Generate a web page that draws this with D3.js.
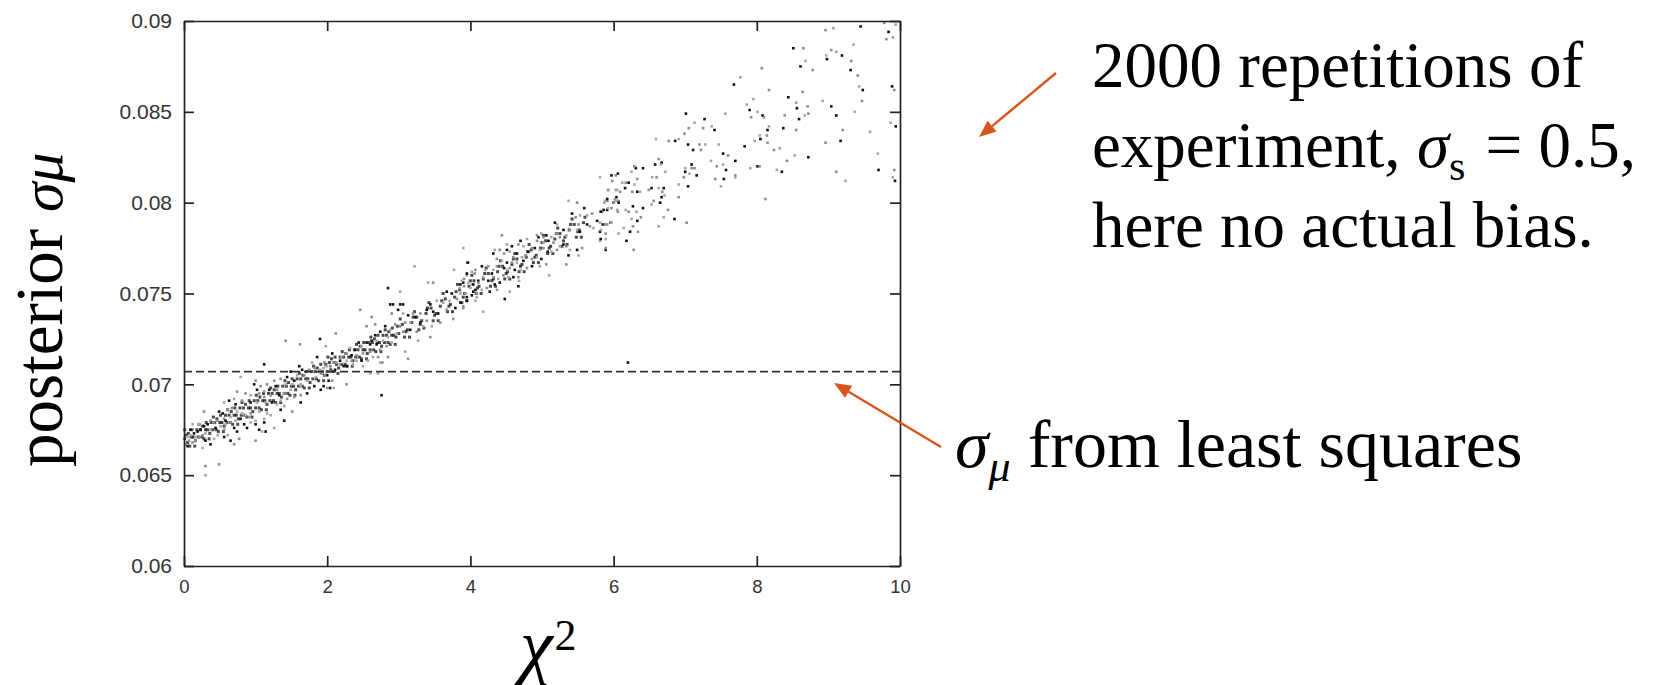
<!DOCTYPE html>
<html>
<head>
<meta charset="utf-8">
<script src="https://cdn.jsdelivr.net/npm/d3@7"></script>
<style>
  body { margin: 0; background: #fff; }
  svg { display: block; }
</style>
</head>
<body>
<svg width="1654" height="685"></svg>
<script>
const svg = d3.select("svg");

// *** DATA ***
const xTicks = [0, 2, 4, 6, 8, 10];
const yTicks = [0.06, 0.065, 0.07, 0.075, 0.08, 0.085, 0.09];
const leastSquaresSigma = 0.0707; // dashed line

// [chi2, posterior sigma_mu] pairs, chi2 < 2.1
const bandLow = [
  [0.01,0.0670],[0.02,0.0667],[0.05,0.0671],[0.05,0.0666],[0.07,0.0669],[0.09,0.0672],[0.09,0.0675],[0.12,0.0668],
  [0.12,0.0678],[0.14,0.0673],[0.16,0.0669],[0.16,0.0671],[0.19,0.0674],[0.21,0.0671],[0.21,0.0678],[0.23,0.0675],
  [0.26,0.0672],[0.26,0.0665],[0.28,0.0677],[0.28,0.0685],[0.30,0.0673],[0.30,0.0669],[0.30,0.0655],[0.30,0.0650],
  [0.33,0.0678],[0.37,0.0680],[0.37,0.0675],[0.37,0.0667],[0.42,0.0679],[0.42,0.0670],[0.44,0.0676],[0.47,0.0680],
  [0.47,0.0672],[0.49,0.0685],[0.49,0.0656],[0.51,0.0677],[0.54,0.0684],[0.56,0.0681],[0.56,0.0690],[0.56,0.0671],
  [0.56,0.0675],[0.58,0.0678],[0.58,0.0680],[0.61,0.0686],[0.61,0.0672],[0.63,0.0691],[0.65,0.0679],[0.65,0.0682],
  [0.65,0.0669],[0.67,0.0687],[0.70,0.0692],[0.70,0.0676],[0.70,0.0667],[0.72,0.0680],[0.72,0.0689],[0.74,0.0696],
  [0.74,0.0685],[0.74,0.0674],[0.77,0.0670],[0.79,0.0704],[0.79,0.0681],[0.81,0.0691],[0.81,0.0684],[0.84,0.0678],
  [0.86,0.0695],[0.86,0.0683],[0.88,0.0676],[0.91,0.0682],[0.93,0.0694],[0.93,0.0690],[0.93,0.0684],[0.93,0.0679],
  [0.98,0.0700],[1.00,0.0702],[1.00,0.0680],[1.00,0.0678],[1.00,0.0669],[1.02,0.0690],[1.02,0.0697],[1.05,0.0695],
  [1.05,0.0685],[1.05,0.0675],[1.07,0.0699],[1.09,0.0674],[1.12,0.0711],[1.12,0.0693],[1.12,0.0681],[1.12,0.0679],
  [1.12,0.0696],[1.14,0.0690],[1.14,0.0674],[1.16,0.0700],[1.16,0.0684],[1.19,0.0697],[1.21,0.0694],[1.21,0.0683],
  [1.23,0.0690],[1.26,0.0702],[1.26,0.0676],[1.28,0.0699],[1.30,0.0697],[1.30,0.0689],[1.33,0.0694],[1.35,0.0703],
  [1.35,0.0691],[1.35,0.0686],[1.40,0.0695],[1.40,0.0688],[1.40,0.0680],[1.42,0.0724],[1.42,0.0700],[1.44,0.0704],
  [1.44,0.0692],[1.49,0.0697],[1.49,0.0707],[1.51,0.0685],[1.51,0.0700],[1.54,0.0702],[1.54,0.0693],[1.58,0.0705],
  [1.61,0.0710],[1.62,0.0722],[1.63,0.0700],[1.63,0.0690],[1.63,0.0694],[1.63,0.0699],[1.65,0.0708],[1.68,0.0705],
  [1.72,0.0702],[1.72,0.0695],[1.75,0.0708],[1.79,0.0712],[1.82,0.0699],[1.82,0.0709],[1.84,0.0704],[1.86,0.0715],
  [1.89,0.0707],[1.91,0.0706],[1.91,0.0697],[1.96,0.0712],[1.98,0.0721],[2.00,0.0705],[2.00,0.0698],[2.05,0.0710],
  [2.07,0.0717],[2.07,0.0702]
];

// chi2 between 1.9 and 4.1
const bandMid = [
  [1.90,0.0708],[1.90,0.0725],[1.92,0.0706],[1.95,0.0709],[1.95,0.0699],[1.97,0.0705],[1.99,0.0710],[2.02,0.0702],
  [2.04,0.0710],[2.04,0.0707],[2.04,0.0698],[2.09,0.0712],[2.09,0.0698],[2.11,0.0708],[2.12,0.0728],[2.13,0.0712],
  [2.18,0.0713],[2.18,0.0711],[2.20,0.0715],[2.23,0.0710],[2.27,0.0717],[2.27,0.0713],[2.27,0.0710],[2.27,0.0700],
  [2.32,0.0720],[2.34,0.0716],[2.34,0.0713],[2.36,0.0711],[2.39,0.0719],[2.41,0.0716],[2.41,0.0713],[2.44,0.0723],
  [2.46,0.0741],[2.48,0.0721],[2.48,0.0713],[2.50,0.0717],[2.50,0.0710],[2.55,0.0723],[2.55,0.0732],[2.57,0.0713],
  [2.60,0.0722],[2.60,0.0718],[2.60,0.0706],[2.62,0.0724],[2.62,0.0737],[2.64,0.0715],[2.67,0.0727],[2.67,0.0733],
  [2.69,0.0724],[2.69,0.0722],[2.71,0.0715],[2.71,0.0706],[2.74,0.0729],[2.74,0.0719],[2.74,0.0712],[2.76,0.0694],
  [2.77,0.0712],[2.78,0.0724],[2.81,0.0732],[2.83,0.0721],[2.85,0.0726],[2.85,0.0753],[2.85,0.0715],[2.88,0.0730],
  [2.88,0.0744],[2.90,0.0739],[2.90,0.0723],[2.92,0.0744],[2.95,0.0733],[2.97,0.0728],[2.99,0.0741],[3.02,0.0732],
  [3.02,0.0751],[3.02,0.0744],[3.06,0.0729],[3.06,0.0739],[3.06,0.0744],[3.09,0.0734],[3.09,0.0718],[3.13,0.0738],
  [3.13,0.0714],[3.16,0.0734],[3.16,0.0730],[3.20,0.0739],[3.22,0.0765],[3.23,0.0737],[3.25,0.0729],[3.27,0.0724],
  [3.30,0.0734],[3.30,0.0739],[3.34,0.0732],[3.39,0.0741],[3.39,0.0735],[3.41,0.0756],[3.44,0.0744],[3.44,0.0726],
  [3.46,0.0732],[3.48,0.0740],[3.48,0.0756],[3.53,0.0746],[3.55,0.0739],[3.58,0.0734],[3.62,0.0745],[3.67,0.0751],
  [3.67,0.0741],[3.71,0.0746],[3.74,0.0750],[3.76,0.0736],[3.77,0.0763],[3.79,0.0742],[3.81,0.0747],[3.85,0.0753],
  [3.90,0.0756],[3.90,0.0742],[3.95,0.0760],[3.95,0.0748],[3.97,0.0767],[4.02,0.0755],[4.04,0.0751],[4.06,0.0761],
  [4.09,0.0748],[4.11,0.0757]
];

// chi2 between 3.8 and 6.1
const bandHigh = [
  [6.03,0.0815],[5.81,0.0814],[5.97,0.0815],[5.92,0.0807],[6.05,0.0807],[6.04,0.0803],[5.91,0.0801],[5.87,0.0800],
  [6.00,0.0800],[6.07,0.0801],[5.84,0.0795],[5.91,0.0796],[5.97,0.0797],[6.05,0.0796],[5.96,0.0789],[5.91,0.0788],
  [5.81,0.0789],[5.77,0.0790],[5.70,0.0794],[5.63,0.0793],[5.59,0.0797],[5.49,0.0800],[5.37,0.0801],[5.42,0.0794],
  [5.47,0.0792],[5.53,0.0793],[5.63,0.0788],[5.67,0.0787],[5.72,0.0786],[5.81,0.0784],[5.89,0.0783],[5.81,0.0779],
  [5.89,0.0774],[5.51,0.0788],[5.49,0.0785],[5.53,0.0784],[5.39,0.0785],[5.34,0.0782],[5.30,0.0785],[5.25,0.0781],
  [5.21,0.0788],[5.18,0.0789],[5.20,0.0783],[5.13,0.0781],[5.06,0.0782],[5.02,0.0781],[4.99,0.0783],[4.95,0.0781],
  [4.93,0.0779],[5.02,0.0778],[5.09,0.0779],[5.16,0.0778],[5.25,0.0776],[5.30,0.0777],[5.34,0.0776],[5.39,0.0774],
  [5.49,0.0774],[5.56,0.0775],[5.51,0.0771],[5.37,0.0771],[5.21,0.0774],[5.13,0.0773],[5.08,0.0773],[5.02,0.0775],
  [4.97,0.0774],[4.90,0.0775],[4.86,0.0775],[4.79,0.0780],[4.70,0.0779],[4.67,0.0777],[4.74,0.0776],[4.81,0.0773],
  [4.77,0.0771],[4.72,0.0770],[4.65,0.0772],[4.60,0.0770],[4.55,0.0773],[4.51,0.0774],[4.47,0.0772],[4.44,0.0768],
  [4.51,0.0767],[4.58,0.0767],[4.65,0.0767],[4.74,0.0768],[4.86,0.0769],[4.93,0.0770],[4.99,0.0769],[5.06,0.0766],
  [4.97,0.0765],[4.86,0.0765],[4.79,0.0764],[4.70,0.0763],[4.62,0.0763],[4.55,0.0764],[4.51,0.0763],[4.47,0.0764],
  [4.37,0.0765],[4.32,0.0763],[4.30,0.0761],[4.25,0.0765],[4.21,0.0763],[4.16,0.0765],[4.07,0.0763],[4.02,0.0762],
  [3.95,0.0761],[3.91,0.0758],[3.88,0.0757],[3.86,0.0755],[3.91,0.0754],[3.97,0.0756],[4.04,0.0755],[4.11,0.0756],
  [4.00,0.0753],[4.07,0.0752],[3.93,0.0750],[3.86,0.0750],[4.02,0.0749],[4.09,0.0750],[4.18,0.0759],[4.25,0.0757],
  [4.32,0.0759],[4.39,0.0758],[4.41,0.0756],[4.46,0.0760],[4.53,0.0759],[4.60,0.0759],[4.67,0.0759],[4.68,0.0757],
  [4.34,0.0755],[4.23,0.0753],[4.16,0.0752],[4.27,0.0751],[4.37,0.0752],[4.55,0.0751],[4.67,0.0754],[4.41,0.0774],
  [4.34,0.0774],[4.32,0.0772],[4.37,0.0769],[3.90,0.0775],[3.96,0.0767],[4.44,0.0782],[4.51,0.0777],[4.58,0.0776],
  [4.93,0.0782],[4.07,0.0746],[3.95,0.0746],[3.90,0.0743],[4.18,0.0740],[4.48,0.0747],[5.34,0.0766],[5.10,0.0760],
  [3.86,0.0745]
];

// dense core of the band (overlapping dots, chi2 0 to 5.6)
const bandCore = [
  [0.03,0.0672],[0.05,0.0668],[0.01,0.0675],[0.08,0.0666],[0.10,0.0671],[0.06,0.0673],[0.13,0.0671],[0.15,0.0666],
  [0.11,0.0675],[0.18,0.0675],[0.20,0.0671],[0.16,0.0669],[0.23,0.0675],[0.25,0.0671],[0.21,0.0678],[0.28,0.0670],
  [0.30,0.0675],[0.26,0.0677],[0.33,0.0675],[0.35,0.0670],[0.31,0.0679],[0.38,0.0679],[0.40,0.0675],[0.36,0.0673],
  [0.43,0.0679],[0.45,0.0675],[0.41,0.0682],[0.48,0.0674],[0.50,0.0679],[0.46,0.0681],[0.53,0.0679],[0.55,0.0674],
  [0.51,0.0683],[0.58,0.0683],[0.60,0.0679],[0.56,0.0677],[0.63,0.0683],[0.65,0.0679],[0.61,0.0686],[0.68,0.0678],
  [0.70,0.0683],[0.66,0.0685],[0.73,0.0683],[0.75,0.0678],[0.71,0.0687],[0.78,0.0687],[0.80,0.0683],[0.76,0.0681],
  [0.83,0.0687],[0.85,0.0683],[0.81,0.0690],[0.88,0.0682],[0.90,0.0687],[0.86,0.0689],[0.93,0.0687],[0.95,0.0682],
  [0.91,0.0691],[0.98,0.0691],[1.00,0.0687],[0.96,0.0685],[1.03,0.0691],[1.05,0.0687],[1.01,0.0694],[1.08,0.0686],
  [1.10,0.0691],[1.06,0.0693],[1.13,0.0691],[1.15,0.0686],[1.11,0.0695],[1.18,0.0695],[1.20,0.0691],[1.16,0.0689],
  [1.23,0.0695],[1.25,0.0691],[1.21,0.0698],[1.28,0.0690],[1.30,0.0695],[1.26,0.0697],[1.33,0.0695],[1.35,0.0690],
  [1.31,0.0699],[1.38,0.0699],[1.40,0.0695],[1.36,0.0693],[1.43,0.0699],[1.45,0.0695],[1.41,0.0702],[1.48,0.0694],
  [1.50,0.0699],[1.46,0.0701],[1.53,0.0699],[1.55,0.0694],[1.51,0.0703],[1.58,0.0703],[1.60,0.0699],[1.56,0.0697],
  [1.63,0.0703],[1.65,0.0699],[1.61,0.0706],[1.68,0.0698],[1.70,0.0703],[1.66,0.0705],[1.73,0.0703],[1.75,0.0698],
  [1.71,0.0707],[1.78,0.0707],[1.80,0.0703],[1.76,0.0701],[1.83,0.0707],[1.85,0.0703],[1.81,0.0710],[1.88,0.0702],
  [1.90,0.0707],[1.86,0.0709],[1.93,0.0707],[1.95,0.0702],[1.91,0.0711],[1.98,0.0711],[2.00,0.0707],[1.96,0.0705],
  [2.03,0.0712],[2.05,0.0708],[2.01,0.0715],[2.08,0.0707],[2.10,0.0712],[2.06,0.0714],[2.13,0.0711],[2.15,0.0706],
  [2.11,0.0715],[2.18,0.0715],[2.20,0.0711],[2.16,0.0709],[2.23,0.0715],[2.25,0.0711],[2.21,0.0718],[2.28,0.0710],
  [2.30,0.0715],[2.26,0.0717],[2.33,0.0715],[2.35,0.0710],[2.31,0.0719],[2.38,0.0719],[2.40,0.0715],[2.36,0.0713],
  [2.43,0.0719],[2.45,0.0715],[2.41,0.0722],[2.48,0.0714],[2.50,0.0719],[2.46,0.0721],[2.53,0.0719],[2.55,0.0714],
  [2.51,0.0723],[2.58,0.0723],[2.60,0.0719],[2.56,0.0717],[2.63,0.0723],[2.65,0.0719],[2.61,0.0726],[2.68,0.0718],
  [2.70,0.0723],[2.66,0.0725],[2.73,0.0723],[2.75,0.0718],[2.71,0.0727],[2.78,0.0727],[2.80,0.0723],[2.76,0.0721],
  [2.83,0.0727],[2.85,0.0723],[2.81,0.0730],[2.88,0.0722],[2.90,0.0727],[2.86,0.0729],[2.93,0.0727],[2.95,0.0722],
  [2.91,0.0731],[2.98,0.0732],[3.00,0.0728],[2.96,0.0726],
  [3.05,0.0733],[3.08,0.0726],[3.02,0.0736],[3.10,0.0729],[3.15,0.0726],[3.18,0.0734],[3.12,0.0730],[3.20,0.0737],
  [3.25,0.0737],[3.28,0.0730],[3.22,0.0740],[3.30,0.0733],[3.35,0.0731],[3.38,0.0739],[3.32,0.0735],[3.40,0.0742],
  [3.45,0.0742],[3.48,0.0735],[3.42,0.0745],[3.50,0.0738],[3.55,0.0735],[3.58,0.0743],[3.52,0.0739],[3.60,0.0746],
  [3.65,0.0747],[3.68,0.0740],[3.62,0.0750],[3.70,0.0743],[3.75,0.0740],[3.78,0.0748],[3.72,0.0744],[3.80,0.0751],
  [3.85,0.0752],[3.88,0.0745],[3.82,0.0755],[3.90,0.0748],[3.95,0.0746],[3.98,0.0754],[3.92,0.0750],[4.00,0.0757],
  [4.05,0.0757],[4.08,0.0750],[4.02,0.0760],[4.10,0.0753],[4.15,0.0750],[4.18,0.0758],[4.12,0.0754],[4.20,0.0761],
  [4.25,0.0761],[4.28,0.0754],[4.22,0.0764],[4.30,0.0757],[4.35,0.0754],[4.38,0.0762],[4.32,0.0758],[4.40,0.0765],
  [4.45,0.0765],[4.48,0.0758],[4.42,0.0768],[4.50,0.0761],[4.55,0.0758],[4.58,0.0766],[4.52,0.0762],[4.60,0.0769],
  [4.65,0.0769],[4.68,0.0762],[4.62,0.0772],[4.70,0.0765],[4.75,0.0762],[4.78,0.0770],[4.72,0.0766],[4.80,0.0773],
  [4.85,0.0774],[4.88,0.0767],[4.82,0.0777],[4.90,0.0770],[4.95,0.0767],[4.98,0.0775],[4.92,0.0771],[5.00,0.0778],
  [5.05,0.0779],[5.08,0.0772],[5.02,0.0782],[5.10,0.0775],[5.15,0.0772],[5.18,0.0780],[5.12,0.0776],[5.20,0.0783],
  [5.25,0.0783],[5.28,0.0776],[5.22,0.0786],[5.30,0.0779],[5.35,0.0777],[5.38,0.0785],[5.32,0.0781],[5.40,0.0788],
  [5.45,0.0788],[5.48,0.0781],[5.42,0.0791],[5.50,0.0784],[5.55,0.0781],[5.58,0.0789],[5.52,0.0785],[5.60,0.0792]
];

// chi2 above 5.8, sparse tail
const tail = [
  [8.96,0.0895],[9.07,0.0896],[9.45,0.0897],[9.78,0.0899],[9.94,0.0898],[9.84,0.0894],[9.81,0.0890],[9.90,0.0891],
  [8.51,0.0885],[8.65,0.0885],[8.68,0.0878],[8.61,0.0875],[8.78,0.0873],[8.97,0.0881],[8.98,0.0879],[9.04,0.0884],
  [9.11,0.0883],[9.19,0.0881],[9.32,0.0878],[9.35,0.0887],[9.31,0.0873],[9.41,0.0870],[9.43,0.0864],[9.48,0.0862],
  [9.47,0.0856],[9.37,0.0850],[9.11,0.0848],[9.20,0.0840],[9.58,0.0839],[9.17,0.0834],[8.96,0.0833],[9.69,0.0827],
  [9.70,0.0818],[9.11,0.0817],[9.24,0.0812],[9.89,0.0864],[9.92,0.0862],[9.87,0.0844],[9.94,0.0842],[9.92,0.0818],
  [9.90,0.0814],[9.93,0.0812],[8.07,0.0874],[7.77,0.0869],[7.68,0.0865],[8.17,0.0862],[7.95,0.0857],[8.44,0.0858],
  [8.64,0.0861],[8.55,0.0855],[8.56,0.0852],[8.71,0.0853],[8.92,0.0856],[9.04,0.0853],[8.72,0.0849],[8.67,0.0848],
  [8.59,0.0846],[8.39,0.0848],[7.86,0.0854],[7.90,0.0851],[7.92,0.0847],[8.01,0.0850],[8.08,0.0848],[8.10,0.0847],
  [8.17,0.0842],[8.15,0.0840],[8.14,0.0837],[8.04,0.0837],[8.05,0.0835],[8.15,0.0833],[7.97,0.0834],[7.83,0.0831],
  [8.24,0.0829],[8.32,0.0830],[8.37,0.0841],[8.55,0.0840],[8.53,0.0826],[8.72,0.0825],[8.42,0.0823],[7.91,0.0819],
  [8.01,0.0820],[8.04,0.0820],[8.28,0.0818],[8.35,0.0817],[8.12,0.0802],[7.56,0.0849],[7.01,0.0849],[7.05,0.0841],
  [7.13,0.0844],[7.27,0.0846],[7.25,0.0841],[7.37,0.0842],[7.41,0.0840],[6.99,0.0838],[6.91,0.0835],[6.86,0.0834],
  [6.77,0.0834],[6.59,0.0835],[7.04,0.0832],[7.20,0.0832],[7.28,0.0832],[7.11,0.0829],[7.22,0.0829],[7.47,0.0832],
  [7.53,0.0827],[7.60,0.0826],[7.36,0.0823],[7.70,0.0823],[7.70,0.0815],[7.70,0.0814],[7.57,0.0818],[7.44,0.0820],
  [7.53,0.0821],[7.54,0.0813],[7.42,0.0813],[7.50,0.0809],[7.09,0.0821],[7.09,0.0819],[7.00,0.0819],[7.00,0.0817],
  [7.13,0.0819],[7.06,0.0816],[7.16,0.0815],[6.98,0.0814],[6.91,0.0810],[7.04,0.0809],[6.91,0.0803],[6.72,0.0817],
  [6.67,0.0822],[6.63,0.0824],[6.66,0.0821],[6.58,0.0821],[6.60,0.0814],[6.54,0.0814],[6.53,0.0808],[6.49,0.0807],
  [6.63,0.0808],[6.70,0.0808],[6.68,0.0806],[6.71,0.0804],[6.67,0.0803],[6.56,0.0801],[6.53,0.0799],[6.65,0.0800],
  [6.76,0.0796],[6.70,0.0792],[6.85,0.0791],[7.02,0.0789],[6.63,0.0787],[6.31,0.0819],[6.29,0.0820],[6.25,0.0817],
  [6.41,0.0819],[6.33,0.0813],[6.37,0.0806],[6.33,0.0806],[6.26,0.0806],[6.29,0.0810],[6.21,0.0811],[6.17,0.0811],
  [6.12,0.0811],[6.06,0.0816],[5.98,0.0812],[5.93,0.0807],[6.16,0.0808],[6.09,0.0806],[6.03,0.0807],[5.91,0.0802],
  [6.02,0.0802],[6.03,0.0801],[6.07,0.0800],[6.00,0.0800],[5.88,0.0801],[5.86,0.0796],[5.83,0.0795],[5.92,0.0797],
  [5.82,0.0795],[6.06,0.0795],[6.17,0.0796],[6.27,0.0798],[6.21,0.0795],[6.32,0.0795],[6.41,0.0797],[6.38,0.0792],
  [6.25,0.0791],[6.33,0.0790],[6.27,0.0787],[6.14,0.0786],[6.23,0.0784],[6.34,0.0784],[6.07,0.0783],[6.18,0.0779],
  [6.28,0.0774],[5.97,0.0789],[5.85,0.0788],[5.88,0.0788],[5.89,0.0780],[5.82,0.0780],[5.89,0.0775],[5.82,0.0785],
  [6.20,0.0712]
];

// *** LAYOUT ***
const plot = { left: 184, right: 900, top: 21, bottom: 566 };
const x = d3.scaleLinear().domain([0, 10]).range([plot.left, plot.right]);
const y = d3.scaleLinear().domain([0.06, 0.09]).range([plot.bottom, plot.top]);

const ink = "#222";
const arrowColor = "#d9541c";
const serif = "'Liberation Serif', 'Times New Roman', serif";
const sans = "'Liberation Sans', Arial, sans-serif";
const greys = ["#111", "#8e8e8e", "#a6a6a6"];

// scatter points: core first (semi-transparent so overlaps darken), then the read-off points
function drawDots(data, size, fill, opacity) {
  svg.append("g")
    .attr("fill-opacity", opacity)
    .selectAll("rect")
    .data(data)
    .join("rect")
    .attr("x", d => x(d[0]) - size / 2)
    .attr("y", d => y(d[1]) - size / 2)
    .attr("width", size)
    .attr("height", size)
    .attr("fill", fill);
}
drawDots(bandCore, 3, "#000", 0.7);
drawDots([].concat(bandLow, bandMid, bandHigh, tail), 2.6, (d, i) => greys[i % 3], 1);

// least squares line
svg.append("line")
  .attr("x1", x(0)).attr("x2", x(10))
  .attr("y1", y(leastSquaresSigma)).attr("y2", y(leastSquaresSigma))
  .attr("stroke", "#333")
  .attr("stroke-width", 1.6)
  .attr("stroke-dasharray", "8,4");

// frame with inward ticks on all four sides
function styleAxis(g) {
  g.select(".domain").attr("stroke", ink).attr("stroke-width", 1.7);
  g.selectAll(".tick line").attr("stroke", ink).attr("stroke-width", 1.7);
  g.selectAll(".tick text").attr("fill", "#333").style("font-family", sans);
}

svg.append("g")
  .attr("transform", `translate(0,${plot.bottom})`)
  .call(d3.axisBottom(x).tickValues(xTicks).tickSizeInner(-10).tickSizeOuter(0).tickPadding(14))
  .call(styleAxis)
  .selectAll(".tick text").style("font-size", "18.5px");

svg.append("g")
  .attr("transform", `translate(0,${plot.top})`)
  .call(d3.axisTop(x).tickValues(xTicks).tickSizeInner(-10).tickSizeOuter(0).tickFormat(""))
  .call(styleAxis);

svg.append("g")
  .attr("transform", `translate(${plot.left},0)`)
  .call(d3.axisLeft(y).tickValues(yTicks).tickSizeInner(-10).tickSizeOuter(0).tickPadding(12)
    .tickFormat(d3.format(".3~f")))
  .call(styleAxis)
  .selectAll(".tick text").style("font-size", "21px");

svg.append("g")
  .attr("transform", `translate(${plot.right},0)`)
  .call(d3.axisRight(y).tickValues(yTicks).tickSizeInner(-10).tickSizeOuter(0).tickFormat(""))
  .call(styleAxis);

// axis titles
const yTitle = svg.append("text")
  .attr("transform", "translate(62,467) rotate(-90)")
  .style("font-family", serif)
  .style("font-size", "67px")
  .attr("fill", "#000");
yTitle.append("tspan").text("posterior ");
yTitle.append("tspan").style("font-style", "italic").style("font-size", "60px").text("σμ");

const xTitle = svg.append("text")
  .attr("x", 520).attr("y", 670)
  .style("font-family", serif)
  .attr("fill", "#000");
xTitle.append("tspan").style("font-style", "italic").style("font-size", "74px").text("χ");
xTitle.append("tspan").attr("dx", 2).attr("dy", -20).style("font-size", "44px").text("2");

// annotations
const note = svg.append("g")
  .style("font-family", serif)
  .style("font-size", "65px")
  .attr("fill", "#000");

note.append("text").attr("x", 1092).attr("y", 87).text("2000 repetitions of");

const line2 = note.append("text").attr("x", 1092).attr("y", 167);
line2.append("tspan").text("experiment, ");
line2.append("tspan").style("font-style", "italic").text("σ");
line2.append("tspan").attr("dy", 13).style("font-size", "42px").text("s");
line2.append("tspan").attr("dy", -13).attr("dx", 4).text(" = 0.5,");

note.append("text").attr("x", 1092).attr("y", 247).text("here no actual bias.");

const lsLabel = note.append("text").attr("x", 955).attr("y", 467).style("font-size", "68px");
lsLabel.append("tspan").style("font-style", "italic").text("σ");
lsLabel.append("tspan").attr("dy", 14).style("font-style", "italic").style("font-size", "44px").text("μ");
lsLabel.append("tspan").attr("dy", -14).text(" from least squares");

function arrow(x1, y1, x2, y2) {
  const a = Math.atan2(y2 - y1, x2 - x1);
  const len = 17, half = 7;
  const bx = x2 - len * Math.cos(a), by = y2 - len * Math.sin(a);
  svg.append("line")
    .attr("x1", x1).attr("y1", y1).attr("x2", bx).attr("y2", by)
    .attr("stroke", arrowColor).attr("stroke-width", 2.4);
  svg.append("path")
    .attr("d", d3.line()([
      [x2, y2],
      [bx + half * Math.sin(a), by - half * Math.cos(a)],
      [bx - half * Math.sin(a), by + half * Math.cos(a)]
    ]) + "Z")
    .attr("fill", arrowColor);
}

arrow(1056, 73, 979, 137);
arrow(941, 447, 834, 383);
</script>
</body>
</html>
